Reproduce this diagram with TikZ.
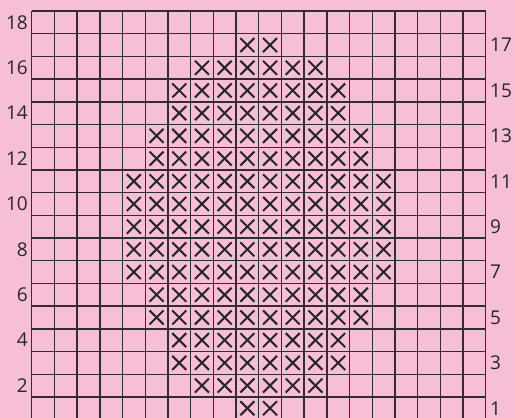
\documentclass[tikz,border=0pt]{standalone}
\usepackage{fontspec}
\setmainfont{Open Sans}
\definecolor{bgpink}{RGB}{246,190,215}
\definecolor{gridline}{RGB}{50,45,48}
\tikzset{
  gridlines/.style={draw=gridline, line width=1.4pt},
  stitch/.style={draw=black!85, line width=2pt},
  leftnum/.style={anchor=east, inner sep=0pt, font=\fontsize{19}{19}\selectfont, text=black!85},
  rightnum/.style={anchor=west, inner sep=0pt, font=\fontsize{19}{19}\selectfont, text=black!85}
}
\begin{document}
\begin{tikzpicture}[x=1pt,y=-1pt]
\fill[bgpink] (0,0) rectangle (515,418);
\useasboundingbox (0,0) rectangle (515,418);
\def\xo{31.7}\def\yo{11}\def\cs{22.7}
% grid
\foreach \i in {0,...,20} {
  \draw[gridlines] ({\xo+\i*\cs},\yo) -- ({\xo+\i*\cs},{\yo+18*\cs});
}
\foreach \j in {0,...,18} {
  \draw[gridlines] (\xo,{\yo+\j*\cs}) -- ({\xo+20*\cs},{\yo+\j*\cs});
}
% crosses: row/first col/last col (rows numbered from bottom)
\foreach \r/\a/\b in {17/10/11,16/8/13,15/7/14,14/7/14,13/6/15,12/6/15,11/5/16,10/5/16,9/5/16,8/5/16,7/5/16,6/6/15,5/6/15,4/7/14,3/7/14,2/8/13,1/10/11} {
  \foreach \c in {\a,...,\b} {
    \pgfmathsetmacro{\cx}{\xo+(\c-0.5)*\cs}
    \pgfmathsetmacro{\cy}{\yo+(18-\r+0.5)*\cs}
    \draw[stitch] ({\cx-7},{\cy-7}) -- ({\cx+7},{\cy+7});
    \draw[stitch] ({\cx-7},{\cy+7}) -- ({\cx+7},{\cy-7});
  }
}
% labels
\foreach \r in {2,4,...,18} {
  \node[leftnum] (l\r) at (28,{\yo+(18-\r+0.5)*\cs}) {\r};
}
\foreach \r in {1,3,...,17} {
  \node[rightnum] (r\r) at (490,{\yo+(18-\r+0.5)*\cs}) {\r};
}
\end{tikzpicture}
\end{document}
